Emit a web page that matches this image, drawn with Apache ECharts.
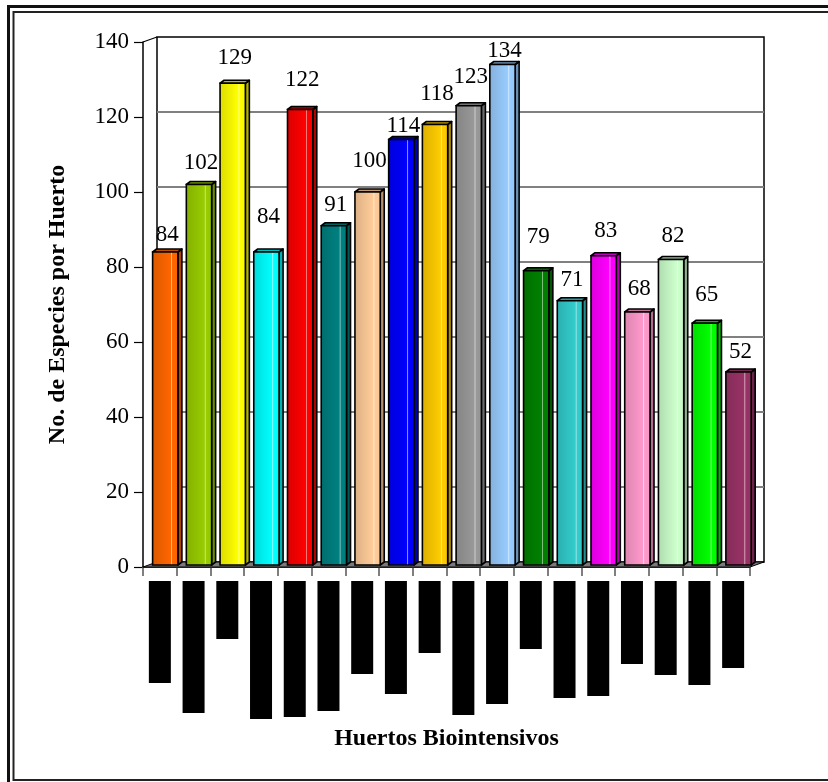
<!DOCTYPE html>
<html>
<head>
<meta charset="utf-8">
<script src="https://cdn.jsdelivr.net/npm/echarts@6/dist/echarts.min.js"></script>
<style>
  html, body { margin: 0; padding: 0; background: #ffffff; }
  #chart { width: 828px; height: 782px; }
</style>
</head>
<body>
<div id="chart"></div>
<script>
// Species counted in each biointensive garden
const categories = [
  'Huerto 1', 'Huerto 2', 'Huerto 3', 'Huerto 4', 'Huerto 5', 'Huerto 6',
  'Huerto 7', 'Huerto 8', 'Huerto 9', 'Huerto 10', 'Huerto 11', 'Huerto 12',
  'Huerto 13', 'Huerto 14', 'Huerto 15', 'Huerto 16', 'Huerto 17', 'Huerto 18'
];
const speciesCounts = [84, 102, 129, 84, 122, 91, 100, 114, 118, 123, 134, 79, 71, 83, 68, 82, 65, 52];
const yTicks = [0, 20, 40, 60, 80, 100, 120, 140];

// Styling: one colour per garden, label lift above each bar, black name blocks
const barColors = [
  '#FF6600', '#99CC00', '#FFFF00', '#00FFFF', '#FF0000', '#008080',
  '#FFCC99', '#0000FF', '#FFCC00', '#999999', '#99CCFF', '#008000',
  '#33CCCC', '#FF00FF', '#FF99CC', '#CCFFCC', '#00FF00', '#993366'
];
const labelLift = [17, 22, 25, 35, 30, 21, 31, 14, 31, 29, 14, 34, 21, 25, 23, 24, 28, 20];
const nameBlockHeights = [102, 132, 58, 138, 136, 130, 93, 113, 72, 134, 123, 68, 117, 115, 83, 94, 104, 87];

const SERIF = '"Liberation Serif", "Times New Roman", serif';
const DEPTH_X = 14, DEPTH_Y = 5;

function parseHex(h) {
  return [parseInt(h.slice(1, 3), 16), parseInt(h.slice(3, 5), 16), parseInt(h.slice(5, 7), 16)];
}
function rgb(c) { return 'rgb(' + c.map(v => Math.max(0, Math.min(255, Math.round(v)))).join(',') + ')'; }
function shade(h, f) { return rgb(parseHex(h).map(v => v * f)); }
function tint(h, t) { return rgb(parseHex(h).map(v => v + (255 - v) * t)); }

const nameRich = {};
nameBlockHeights.forEach((h, i) => {
  nameRich['k' + i] = { backgroundColor: '#000', width: 22, height: h, lineHeight: h, color: '#000' };
});

// Back wall, floor and gridlines placed through the axis scales
function renderWall(params, api) {
  const cw = api.size([1, 0])[0];
  const xL = api.coord([0, 0])[0] - cw / 2;
  const xR = api.coord([categories.length - 1, 0])[0] + cw / 2;
  const y0 = api.coord([0, yTicks[0]])[1];
  const yTop = api.coord([0, yTicks[yTicks.length - 1]])[1];
  const children = [];
  // back wall
  children.push({
    type: 'rect',
    shape: { x: xL + DEPTH_X, y: yTop - DEPTH_Y, width: xR - xL, height: y0 - yTop },
    style: { fill: '#fff', stroke: '#000', lineWidth: 1.5 }
  });
  // gridlines on the back wall
  yTicks.slice(1, -1).forEach(t => {
    const y = api.coord([0, t])[1] - DEPTH_Y;
    children.push({
      type: 'line',
      shape: { x1: xL + DEPTH_X, y1: y, x2: xR + DEPTH_X, y2: y },
      style: { stroke: '#808080', lineWidth: 2 }
    });
  });
  // floor
  children.push({
    type: 'polygon',
    shape: { points: [[xL, y0], [xR, y0], [xR + DEPTH_X, y0 - DEPTH_Y], [xL + DEPTH_X, y0 - DEPTH_Y]] },
    style: { fill: '#7a7a7a', stroke: '#000', lineWidth: 1 }
  });
  // side wall top edge
  children.push({
    type: 'line',
    shape: { x1: xL, y1: yTop, x2: xL + DEPTH_X, y2: yTop - DEPTH_Y },
    style: { stroke: '#000', lineWidth: 1.2 }
  });
  return { type: 'group', children: children };
}

// 3D-looking column with top and side faces plus its value label
function renderBar(params, api) {
  const i = api.value(0);
  const v = api.value(1);
  const base = api.coord([i, 0]);
  const top = api.coord([i, v]);
  const cw = api.size([1, 0])[0];
  const w = cw * 0.75;
  const cx = base[0] + cw * 0.16;
  const dx = 4, dy = 3;
  const xl = cx - w / 2, xr = cx + w / 2;
  const yb = base[1] - 2, yt = top[1];
  const col = barColors[i];
  const front = new echarts.graphic.LinearGradient(0, 0, 1, 0, [
    { offset: 0, color: shade(col, 0.86) },
    { offset: 0.45, color: shade(col, 0.95) },
    { offset: 0.7, color: col },
    { offset: 0.73, color: tint(col, 0.55) },
    { offset: 0.77, color: col },
    { offset: 1, color: shade(col, 0.97) }
  ]);
  return {
    type: 'group',
    children: [
      {
        type: 'polygon',
        shape: { points: [[xr, yt], [xr + dx, yt - dy], [xr + dx, yb - dy], [xr, yb]] },
        style: { fill: shade(col, 0.7), stroke: '#000', lineWidth: 1.6, lineJoin: 'round' }
      },
      {
        type: 'polygon',
        shape: { points: [[xl, yt], [xl + dx, yt - dy], [xr + dx, yt - dy], [xr, yt]] },
        style: { fill: shade(col, 0.75), stroke: '#000', lineWidth: 1.6, lineJoin: 'round' }
      },
      {
        type: 'rect',
        shape: { x: xl, y: yt, width: w, height: yb - yt },
        style: { fill: front, stroke: '#000', lineWidth: 1.6 }
      },
      {
        type: 'text',
        style: {
          x: cx + 2, y: top[1] - labelLift[i],
          text: String(v),
          align: 'center', verticalAlign: 'middle',
          font: '23px ' + SERIF, fill: '#000'
        }
      }
    ]
  };
}

const chart = echarts.init(document.getElementById('chart'), null, { renderer: 'canvas' });
chart.setOption({
  animation: false,
  backgroundColor: '#ffffff',
  grid: { left: 143, top: 42, width: 607, height: 525, containLabel: false },
  xAxis: {
    type: 'category',
    data: categories,
    boundaryGap: true,
    name: 'Huertos Biointensivos',
    nameLocation: 'middle',
    nameGap: 160,
    nameTextStyle: { fontFamily: SERIF, fontSize: 24, fontWeight: 'bold', color: '#000' },
    axisLine: { show: true, lineStyle: { color: '#000', width: 1.5 } },
    axisTick: { show: true, length: 9, lineStyle: { color: '#555', width: 1.5 } },
    axisLabel: {
      interval: 0,
      margin: 14,
      formatter: (val, idx) => '{k' + idx + '| }',
      rich: nameRich
    },
    splitLine: { show: false }
  },
  yAxis: {
    type: 'value',
    min: 0, max: 140, interval: 20,
    name: 'No. de Especies por Huerto',
    nameLocation: 'middle',
    nameGap: 73,
    nameTextStyle: { fontFamily: SERIF, fontSize: 24, fontWeight: 'bold', color: '#000' },
    axisLine: { show: true, lineStyle: { color: '#000', width: 1.5 } },
    axisTick: { show: true, length: 9, lineStyle: { color: '#000', width: 1.2 } },
    axisLabel: { margin: 14, fontFamily: SERIF, fontSize: 23, color: '#000' },
    splitLine: { show: false }
  },
  series: [
    {
      type: 'custom',
      z: 1,
      silent: true,
      clip: false,
      renderItem: renderWall,
      data: [[0, 0]]
    },
    {
      type: 'custom',
      z: 2,
      clip: false,
      renderItem: renderBar,
      data: speciesCounts.map((v, i) => [i, v])
    }
  ],
  graphic: [
    { type: 'rect', z: 100, shape: { x: 8.5, y: 6.5, width: 830, height: 800 }, style: { fill: null, stroke: '#111', lineWidth: 3 } },
    { type: 'rect', z: 100, shape: { x: 13.5, y: 12, width: 830, height: 768 }, style: { fill: null, stroke: '#222', lineWidth: 2 } }
  ]
});
</script>
</body>
</html>
